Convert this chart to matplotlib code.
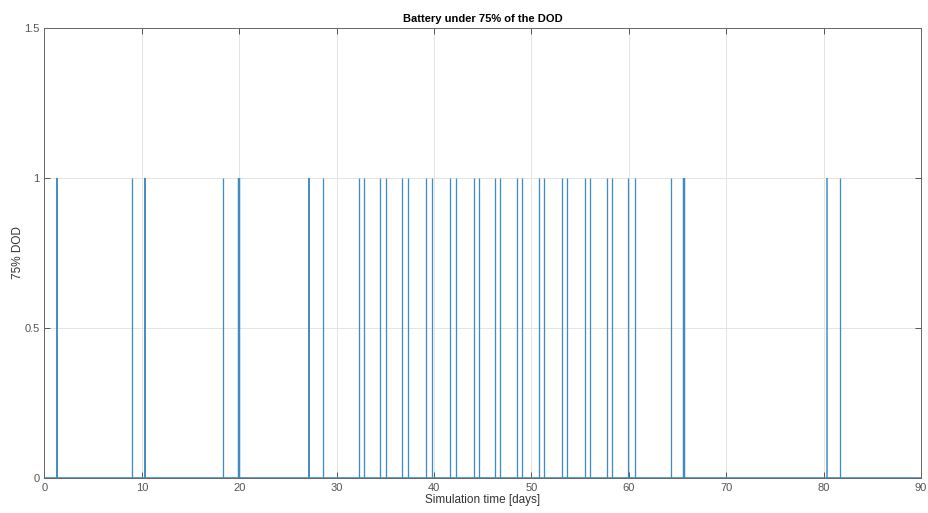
import numpy as np
import matplotlib
matplotlib.use('Agg')
import matplotlib.pyplot as plt

plt.rcParams['font.family'] = ['Liberation Sans', 'DejaVu Sans']

# start time of each event where the battery went under 75% DOD [days]
event_start = [1.27, 9.02, 10.35, 18.28, 19.92, 27.19, 28.55, 32.29, 32.80,
               34.44, 35.06, 36.68, 37.29, 39.14, 39.82, 41.63, 42.22, 44.10,
               44.64, 46.29, 46.77, 48.49, 49.06, 50.77, 51.32, 53.11, 53.62,
               55.50, 56.01, 57.73, 58.30, 59.88, 60.60, 64.30, 65.69, 80.32,
               81.68]
# duration of each event [days]
event_length = [0.10, 0.04, 0.10, 0.04, 0.15, 0.10, 0.04, 0.04, 0.04,
                0.04, 0.04, 0.04, 0.04, 0.04, 0.04, 0.04, 0.04, 0.04,
                0.04, 0.04, 0.04, 0.04, 0.04, 0.04, 0.04, 0.04, 0.04,
                0.04, 0.04, 0.04, 0.04, 0.04, 0.04, 0.04, 0.15, 0.06,
                0.04]
t_end = 90

fig = plt.figure(figsize=(9.29, 5.13), dpi=100)
ax = fig.add_axes([0.0479, 0.0682, 0.9435, 0.8772])

blue = '#3f8cc4'
# flag = 0 outside the events, 1 during each event
ax.plot([0, t_end], [0, 0], color=blue, linewidth=1.2)
widths = [0.6 + 8 * d for d in event_length]
ax.vlines(event_start, 0, 1, colors=blue, linewidths=widths)

ax.set_xlim([0, 90])
ax.set_ylim([0, 1.5])
ax.set_xticks(np.arange(0, 91, 10))
ax.set_yticks([0, 0.5, 1, 1.5])
ax.set_yticklabels(['0', '0.5', '1', '1.5'])

ax.grid(True, color='#e4e4e4', linewidth=0.7)
ax.set_axisbelow(True)
ax.tick_params(direction='in', length=4, width=0.7, colors='#555555',
               labelsize=8, top=True, right=True, labeltop=False, labelright=False)
for sp in ax.spines.values():
    sp.set_color('#666666')
    sp.set_linewidth(0.7)

ax.set_title('Battery under 75% of the DOD', fontsize=8, fontweight='bold', pad=4)
ax.set_xlabel('Simulation time [days]', fontsize=8.5, color='#333333', labelpad=1)
ax.set_ylabel('75% DOD', fontsize=8.5, color='#333333', labelpad=0)

fig.savefig('out.png', dpi=100)
